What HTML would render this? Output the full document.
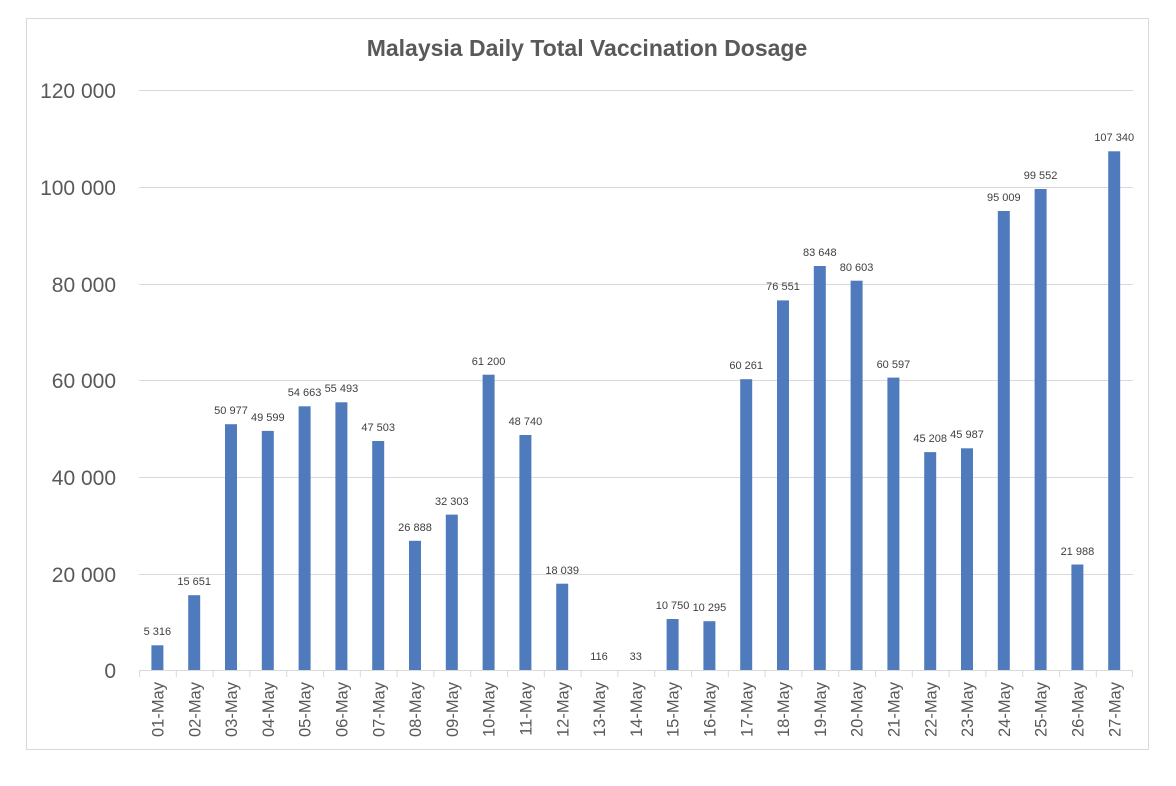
<!DOCTYPE html>
<html><head><meta charset="utf-8"><style>body{margin:0;background:#fff}svg{display:block}</style></head><body>
<svg width="1176" height="786" xmlns="http://www.w3.org/2000/svg" font-family="Liberation Sans, sans-serif">
<rect x="26.5" y="18.5" width="1122" height="731" fill="#fff" stroke="#d9d9d9"/>
<text x="587" y="56" text-anchor="middle" font-size="23" font-weight="bold" fill="#595959">Malaysia Daily Total Vaccination Dosage</text>
<g stroke="#d9d9d9" stroke-width="1">
<line x1="139" x2="1133" y1="90.5" y2="90.5"/><line x1="139" x2="1133" y1="187.5" y2="187.5"/><line x1="139" x2="1133" y1="284.5" y2="284.5"/><line x1="139" x2="1133" y1="380.5" y2="380.5"/><line x1="139" x2="1133" y1="477.5" y2="477.5"/><line x1="139" x2="1133" y1="574.5" y2="574.5"/><line x1="139" x2="1133" y1="670.5" y2="670.5"/>
</g>
<g font-size="21" fill="#595959" text-anchor="end">
<text x="116" y="98">120 000</text><text x="116" y="195">100 000</text><text x="116" y="292">80 000</text><text x="116" y="388">60 000</text><text x="116" y="485">40 000</text><text x="116" y="582">20 000</text><text x="116" y="678">0</text>
</g>
<g fill="#4f7bbd">
<rect x="151.4" y="645.3" width="12" height="25.7"/><rect x="188.2" y="595.2" width="12" height="75.8"/><rect x="225" y="424.2" width="12" height="246.8"/><rect x="261.8" y="430.9" width="12" height="240.1"/><rect x="298.6" y="406.3" width="12" height="264.7"/><rect x="335.4" y="402.3" width="12" height="268.7"/><rect x="372.2" y="441" width="12" height="230"/><rect x="409" y="540.8" width="12" height="130.2"/><rect x="445.8" y="514.6" width="12" height="156.4"/><rect x="482.6" y="374.7" width="12" height="296.3"/><rect x="519.4" y="435" width="12" height="236"/><rect x="556.2" y="583.7" width="12" height="87.3"/><rect x="593" y="670.4" width="12" height="0.6"/><rect x="629.8" y="670.8" width="12" height="0.2"/><rect x="666.6" y="619" width="12" height="52"/><rect x="703.4" y="621.2" width="12" height="49.8"/><rect x="740.2" y="379.2" width="12" height="291.8"/><rect x="777" y="300.4" width="12" height="370.6"/><rect x="813.8" y="266" width="12" height="405"/><rect x="850.6" y="280.7" width="12" height="390.3"/><rect x="887.4" y="377.6" width="12" height="293.4"/><rect x="924.2" y="452.1" width="12" height="218.9"/><rect x="961" y="448.3" width="12" height="222.7"/><rect x="997.8" y="211" width="12" height="460"/><rect x="1034.6" y="189" width="12" height="482"/><rect x="1071.4" y="564.5" width="12" height="106.5"/><rect x="1108.2" y="151.3" width="12" height="519.7"/>
</g>
<g font-size="11" fill="#404040" text-anchor="middle">
<text x="157.4" y="635">5 316</text><text x="194.2" y="585">15 651</text><text x="231" y="414">50 977</text><text x="267.8" y="421">49 599</text><text x="304.6" y="396">54 663</text><text x="341.4" y="392">55 493</text><text x="378.2" y="431">47 503</text><text x="415" y="531">26 888</text><text x="451.8" y="505">32 303</text><text x="488.6" y="365">61 200</text><text x="525.4" y="425">48 740</text><text x="562.2" y="574">18 039</text><text x="599" y="660">116</text><text x="635.8" y="660">33</text><text x="672.6" y="609">10 750</text><text x="709.4" y="611">10 295</text><text x="746.2" y="369">60 261</text><text x="783" y="290">76 551</text><text x="819.8" y="256">83 648</text><text x="856.6" y="271">80 603</text><text x="893.4" y="368">60 597</text><text x="930.2" y="442">45 208</text><text x="967" y="438">45 987</text><text x="1003.8" y="201">95 009</text><text x="1040.6" y="179">99 552</text><text x="1077.4" y="555">21 988</text><text x="1114.2" y="141">107 340</text>
</g>
<g stroke="#d9d9d9">
<line x1="139" x2="1133" y1="670.5" y2="670.5"/>
<line x1="139.5" x2="139.5" y1="670" y2="677"/><line x1="176.3" x2="176.3" y1="670" y2="677"/><line x1="213.1" x2="213.1" y1="670" y2="677"/><line x1="249.9" x2="249.9" y1="670" y2="677"/><line x1="286.7" x2="286.7" y1="670" y2="677"/><line x1="323.5" x2="323.5" y1="670" y2="677"/><line x1="360.3" x2="360.3" y1="670" y2="677"/><line x1="397.1" x2="397.1" y1="670" y2="677"/><line x1="433.9" x2="433.9" y1="670" y2="677"/><line x1="470.7" x2="470.7" y1="670" y2="677"/><line x1="507.5" x2="507.5" y1="670" y2="677"/><line x1="544.3" x2="544.3" y1="670" y2="677"/><line x1="581.1" x2="581.1" y1="670" y2="677"/><line x1="617.9" x2="617.9" y1="670" y2="677"/><line x1="654.7" x2="654.7" y1="670" y2="677"/><line x1="691.5" x2="691.5" y1="670" y2="677"/><line x1="728.3" x2="728.3" y1="670" y2="677"/><line x1="765.1" x2="765.1" y1="670" y2="677"/><line x1="801.9" x2="801.9" y1="670" y2="677"/><line x1="838.7" x2="838.7" y1="670" y2="677"/><line x1="875.5" x2="875.5" y1="670" y2="677"/><line x1="912.3" x2="912.3" y1="670" y2="677"/><line x1="949.1" x2="949.1" y1="670" y2="677"/><line x1="985.9" x2="985.9" y1="670" y2="677"/><line x1="1022.7" x2="1022.7" y1="670" y2="677"/><line x1="1059.5" x2="1059.5" y1="670" y2="677"/><line x1="1096.3" x2="1096.3" y1="670" y2="677"/><line x1="1132.5" x2="1132.5" y1="670" y2="677"/>
</g>
<g font-size="16.5" fill="#595959" text-anchor="end">
<text transform="translate(163.5,682) rotate(-90)">01-May</text><text transform="translate(200.3,682) rotate(-90)">02-May</text><text transform="translate(237.1,682) rotate(-90)">03-May</text><text transform="translate(273.9,682) rotate(-90)">04-May</text><text transform="translate(310.7,682) rotate(-90)">05-May</text><text transform="translate(347.5,682) rotate(-90)">06-May</text><text transform="translate(384.3,682) rotate(-90)">07-May</text><text transform="translate(421.1,682) rotate(-90)">08-May</text><text transform="translate(457.9,682) rotate(-90)">09-May</text><text transform="translate(494.7,682) rotate(-90)">10-May</text><text transform="translate(531.5,682) rotate(-90)">11-May</text><text transform="translate(568.3,682) rotate(-90)">12-May</text><text transform="translate(605.1,682) rotate(-90)">13-May</text><text transform="translate(641.9,682) rotate(-90)">14-May</text><text transform="translate(678.7,682) rotate(-90)">15-May</text><text transform="translate(715.5,682) rotate(-90)">16-May</text><text transform="translate(752.3,682) rotate(-90)">17-May</text><text transform="translate(789.1,682) rotate(-90)">18-May</text><text transform="translate(825.9,682) rotate(-90)">19-May</text><text transform="translate(862.7,682) rotate(-90)">20-May</text><text transform="translate(899.5,682) rotate(-90)">21-May</text><text transform="translate(936.3,682) rotate(-90)">22-May</text><text transform="translate(973.1,682) rotate(-90)">23-May</text><text transform="translate(1009.9,682) rotate(-90)">24-May</text><text transform="translate(1046.7,682) rotate(-90)">25-May</text><text transform="translate(1083.5,682) rotate(-90)">26-May</text><text transform="translate(1120.3,682) rotate(-90)">27-May</text>
</g>
</svg>
</body></html>
